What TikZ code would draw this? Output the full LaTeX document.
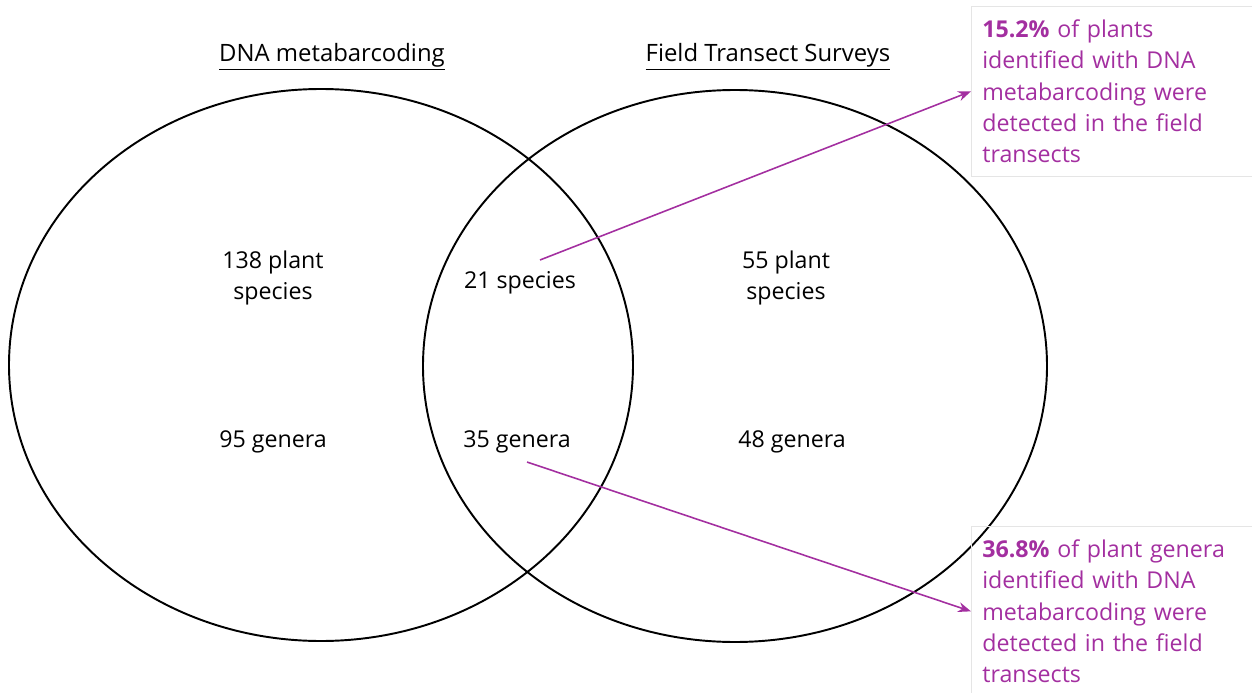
\documentclass[tikz,border=0pt]{standalone}
\usepackage{fontspec}
\setmainfont{Open Sans}
\usepackage{xcolor}
\usepackage{tikz}
\usetikzlibrary{arrows.meta,positioning}
\definecolor{callout}{RGB}{163,47,160}
\newcommand{\vennfont}{\fontsize{13.2}{17.9}\selectfont}

\begin{document}
\begin{tikzpicture}[
  x=0.02cm, y=-0.02cm,
  set/.style={draw, line width=1.1pt},
  count/.style={align=center, font=\vennfont},
  heading/.style={font=\fontsize{13.6}{16}\selectfont},
  notebox/.style={draw=black!10, anchor=north west, align=left, text width=5.8cm,
    inner xsep=0.22cm, minimum height=3.4cm, text=callout, font=\vennfont},
  arrow/.style={-{Stealth[length=2.6mm,width=2mm]}, draw=callout, line width=0.9pt}
]
\useasboundingbox (0,0) rectangle (1252,693);
% the two sets
\draw[set] (321,365) ellipse [x radius=312, y radius=276];
\draw[set] (735,366) ellipse [x radius=312, y radius=276];
\node[heading] (dnatitle) at (332,57) {\underline{DNA metabarcoding}};
\node[heading] (fieldtitle) at (768,57) {\underline{Field Transect Surveys}};
% counts
\node[count] (dnasp) at (273,278) {138 plant\\species};
\node[count] (dnagen) at (273,442) {95 genera};
\node[count] (bothsp) at (520,283) {21 species};
\node[count] (bothgen) at (517,442) {35 genera};
\node[count] (fieldsp) at (786,278) {55 plant\\species};
\node[count] (fieldgen) at (792,442) {48 genera};
% callouts
\node[notebox] (spnote) at (971,6) {\textbf{15.2\%} of plants\\identified with DNA\\metabarcoding were\\detected in the field\\transects};
\node[notebox] (gennote) at (971,526) {\textbf{36.8\%} of plant genera\\identified with DNA\\metabarcoding were\\detected in the field\\transects};
\coordinate (sptail) at (540,260);
\coordinate (gentail) at (527,462);
\draw[arrow] (sptail) -- (spnote.west);
\draw[arrow] (gentail) -- (gennote.west);
\end{tikzpicture}
\end{document}
